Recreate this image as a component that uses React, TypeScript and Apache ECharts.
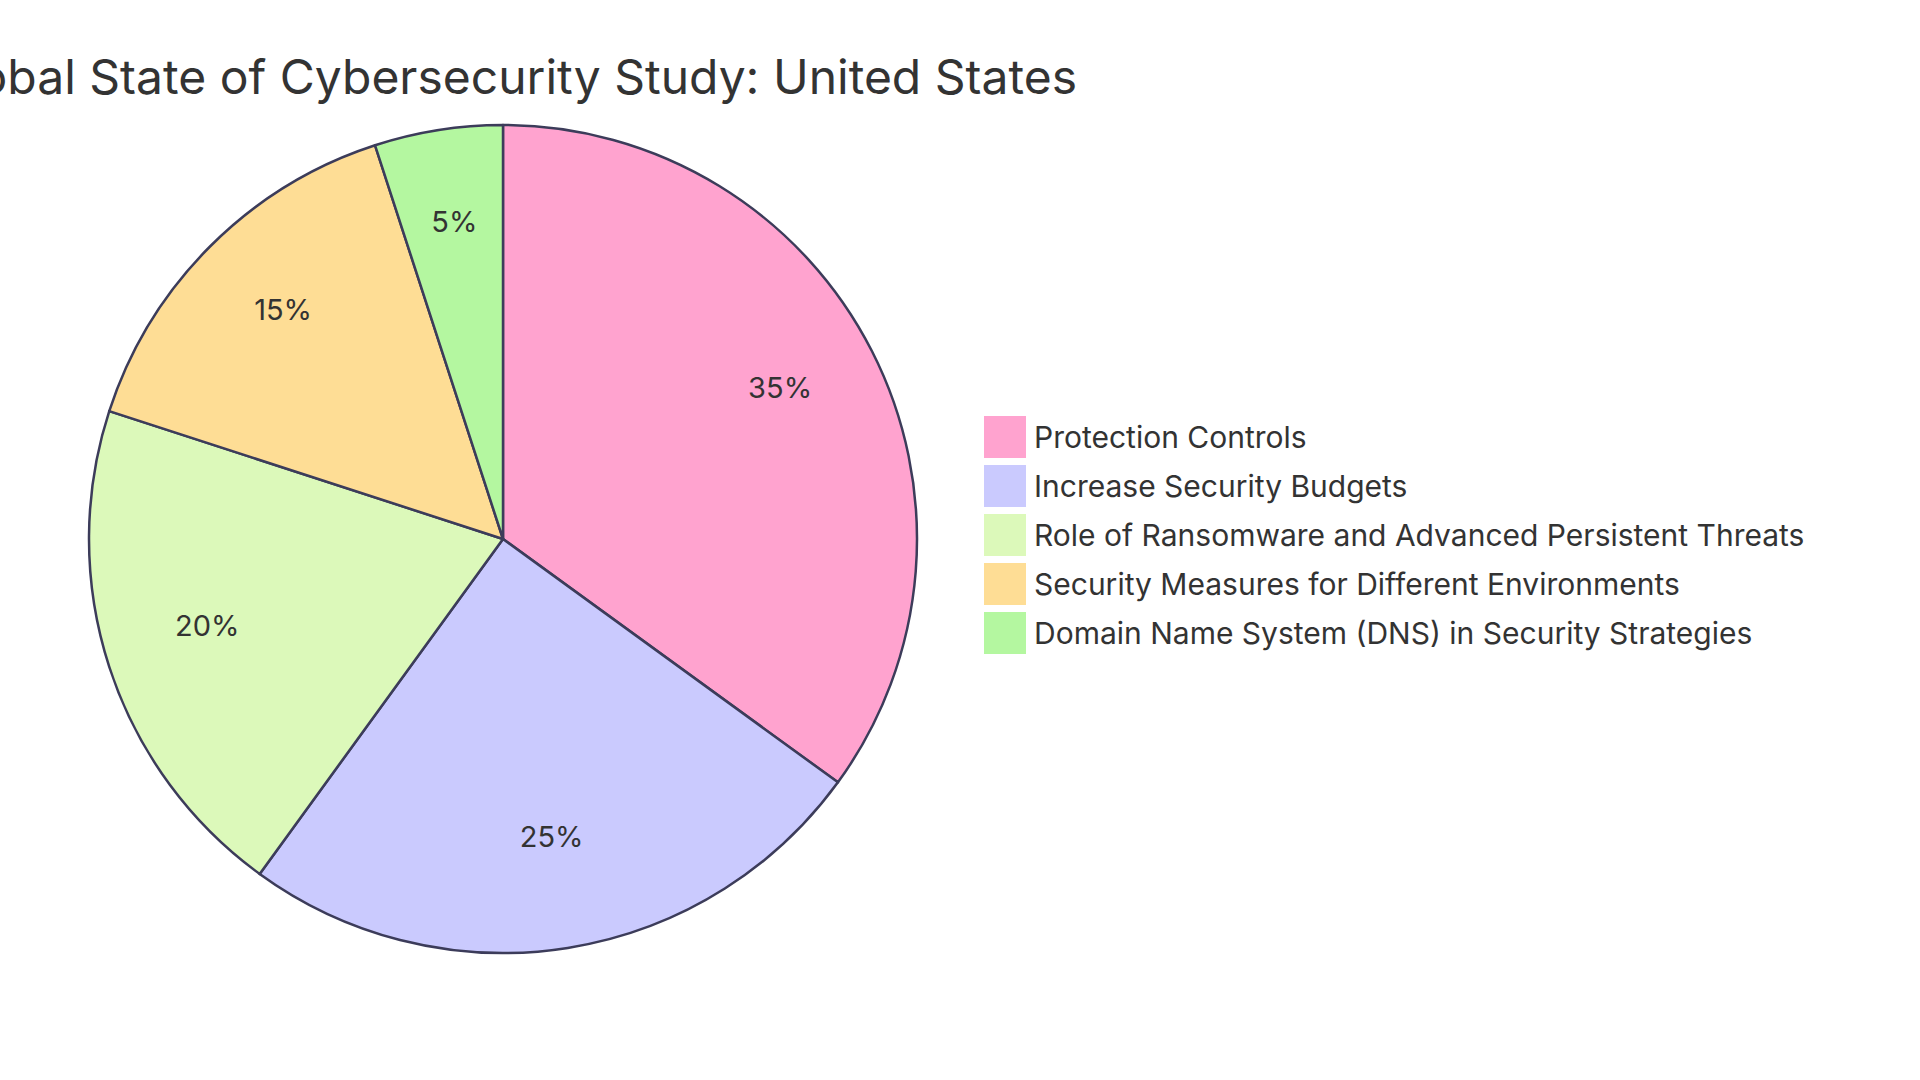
import React, { useEffect, useRef } from "react";
import * as echarts from "echarts";

const titleText = "Global State of Cybersecurity Study: United States";
const categories = [
  "Protection Controls",
  "Increase Security Budgets",
  "Role of Ransomware and Advanced Persistent Threats",
  "Security Measures for Different Environments",
  "Domain Name System (DNS) in Security Strategies",
];
const values = [35, 25, 20, 15, 5];
const colors = ["#FFA3CF", "#CACAFE", "#DCF9BA", "#FEDD95", "#B4F7A0"];

const FONT = "Inter, 'Open Sans', sans-serif";

export default function App() {
  const ref = useRef<HTMLDivElement>(null);
  useEffect(() => {
    document.body.style.margin = "0";
    const chart = echarts.init(ref.current!, null, { renderer: "svg" });
    const data = categories.map((name, i) => ({
      name,
      value: values[i],
      itemStyle: { color: colors[i] },
    }));
    chart.setOption({
      animation: false,
      backgroundColor: "#ffffff",
      title: {
        text: titleText,
        left: 1072,
        top: 47,
        textAlign: "right",
        textStyle: { fontFamily: FONT, fontSize: 48, fontWeight: 400, color: "#333333" },
      },
      legend: {
        orient: "vertical",
        left: 984,
        top: 416,
        padding: 0,
        icon: "rect",
        itemWidth: 42,
        itemHeight: 42,
        itemGap: 7,
        data: categories,
        itemStyle: { borderWidth: 0 },
        textStyle: { fontFamily: FONT, fontSize: 30, color: "#333333", padding: [0, 0, 0, 3] },
      },
      series: [
        {
          type: "pie",
          center: [503, 539],
          radius: [0, 414],
          startAngle: 90,
          clockwise: true,
          data,
          label: { show: false },
          labelLine: { show: false },
          itemStyle: { borderColor: "#3C3C5A", borderWidth: 2.5 },
          emphasis: { disabled: true },
        },
        {
          type: "pie",
          center: [503, 539],
          radius: [202, 414],
          startAngle: 90,
          clockwise: true,
          silent: true,
          data: categories.map((name, i) => ({ name, value: values[i] })),
          itemStyle: { color: "rgba(0,0,0,0)", borderWidth: 0 },
          label: {
            show: true,
            position: "inside",
            formatter: "{c}%",
            fontFamily: FONT,
            fontSize: 29,
            color: "#333333",
          },
          labelLayout: { dy: -10 },
          labelLine: { show: false },
          emphasis: { disabled: true },
        },
      ],
    });
    return () => chart.dispose();
  }, []);
  return <div ref={ref} style={{ width: 1920, height: 1080 }} />;
}
